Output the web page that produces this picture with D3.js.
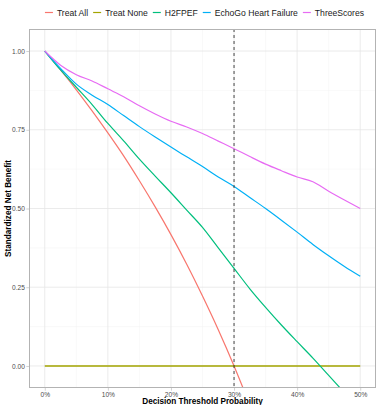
<!DOCTYPE html>
<html>
<head>
<meta charset="utf-8">
<script src="https://cdn.jsdelivr.net/npm/d3@7"></script>
<style>
  body { margin: 0; background: #fff; }
  svg { display: block; font-family: "Liberation Sans", Arial, Helvetica, sans-serif; }
</style>
</head>
<body>
<svg id="chart" width="376" height="405"></svg>
<script>
// threshold probabilities (x)
const thresholds = [0, 0.025, 0.05, 0.075, 0.10, 0.125, 0.15, 0.175, 0.20, 0.225, 0.25,
                    0.275, 0.30, 0.325, 0.35, 0.375, 0.40, 0.425, 0.45, 0.475, 0.50];

// standardized net benefit
const treatAll   = [1.00, 0.94, 0.877, 0.81, 0.74, 0.667, 0.588, 0.505, 0.417, 0.323, 0.222,
                    0.115, 0.00, -0.124, null, null, null, null, null, null, null];
const treatNone  = [0, 0, 0, 0, 0, 0, 0, 0, 0, 0, 0, 0, 0, 0, 0, 0, 0, 0, 0, 0, 0];
const h2fpef     = [1.00, 0.94, 0.885, 0.83, 0.77, 0.715, 0.657, 0.603, 0.55, 0.495, 0.44,
                    0.375, 0.31, 0.245, 0.186, 0.13, 0.077, 0.025, -0.03, -0.085, null];
const echoGo     = [1.00, 0.945, 0.895, 0.86, 0.83, 0.795, 0.76, 0.727, 0.695, 0.664, 0.633,
                    0.60, 0.57, 0.535, 0.50, 0.463, 0.425, 0.386, 0.35, 0.316, 0.285];
const threeScores= [1.00, 0.955, 0.925, 0.905, 0.88, 0.855, 0.826, 0.80, 0.777, 0.759, 0.738,
                    0.714, 0.69, 0.665, 0.641, 0.62, 0.60, 0.585, 0.555, 0.527, 0.50];

const seriesNames  = ["Treat All", "Treat None", "H2FPEF", "EchoGo Heart Failure", "ThreeScores"];
const seriesValues = [treatAll, treatNone, h2fpef, echoGo, threeScores];
const seriesColors = ["#F8766D", "#A3A500", "#00BF7D", "#00B0F6", "#E76BF3"];

const xTicks = [0, 0.1, 0.2, 0.3, 0.4, 0.5];
const xMinor = [0.05, 0.15, 0.25, 0.35, 0.45];
const yTicks = [0, 0.25, 0.5, 0.75, 1];
const yMinor = [0.125, 0.375, 0.625, 0.875];
const cutoff = 0.30;

const svg = d3.select("#chart");
const pLeft = 29, pRight = 376, pTop = 29, pBottom = 388;

const x = d3.scaleLinear().domain([-0.025, 0.525]).range([pLeft, pRight]);
const y = d3.scaleLinear().domain([-0.07, 1.07]).range([pBottom, pTop]);

// grid
const grid = svg.append("g");
grid.selectAll(".xmin").data(xMinor).enter().append("line")
  .attr("x1", d => x(d)).attr("x2", d => x(d)).attr("y1", pTop).attr("y2", pBottom)
  .attr("stroke", "#f2f2f2").attr("stroke-width", 0.5);
grid.selectAll(".ymin").data(yMinor).enter().append("line")
  .attr("x1", pLeft).attr("x2", pRight).attr("y1", d => y(d)).attr("y2", d => y(d))
  .attr("stroke", "#f2f2f2").attr("stroke-width", 0.5);
grid.selectAll(".xmaj").data(xTicks).enter().append("line")
  .attr("x1", d => x(d)).attr("x2", d => x(d)).attr("y1", pTop).attr("y2", pBottom)
  .attr("stroke", "#e6e6e6").attr("stroke-width", 0.8);
grid.selectAll(".ymaj").data(yTicks).enter().append("line")
  .attr("x1", pLeft).attr("x2", pRight).attr("y1", d => y(d)).attr("y2", d => y(d))
  .attr("stroke", "#e6e6e6").attr("stroke-width", 0.8);

// clip
svg.append("clipPath").attr("id", "panel")
  .append("rect").attr("x", pLeft).attr("y", pTop).attr("width", pRight - pLeft).attr("height", pBottom - pTop);

const line = d3.line()
  .defined(d => d[1] != null)
  .curve(d3.curveMonotoneX)
  .x(d => x(d[0])).y(d => y(d[1]));

const plot = svg.append("g").attr("clip-path", "url(#panel)");
seriesValues.forEach((vals, i) => {
  plot.append("path")
    .datum(thresholds.map((t, j) => [t, vals[j]]))
    .attr("d", line)
    .attr("fill", "none")
    .attr("stroke", seriesColors[i])
    .attr("stroke-width", i === 1 ? 1.4 : 1.2);
});

// cutoff line
plot.append("line")
  .attr("x1", x(cutoff)).attr("x2", x(cutoff)).attr("y1", pTop).attr("y2", pBottom)
  .attr("stroke", "#333").attr("stroke-width", 0.9).attr("stroke-dasharray", "3,3");

// panel border
svg.append("rect").attr("x", pLeft + 0.5).attr("y", pTop + 0.5)
  .attr("width", pRight - pLeft - 1).attr("height", pBottom - pTop - 1)
  .attr("fill", "none").attr("stroke", "#b3b3b3").attr("stroke-width", 1);

// axes
const xAxis = svg.append("g").attr("transform", `translate(0,${pBottom})`)
  .call(d3.axisBottom(x).tickValues(xTicks).tickSize(2.7).tickPadding(2)
        .tickFormat(d3.format(".0%")));
const yAxis = svg.append("g").attr("transform", `translate(${pLeft},0)`)
  .call(d3.axisLeft(y).tickValues(yTicks).tickSize(2.7).tickPadding(1.5)
        .tickFormat(d3.format(".2f")));
[xAxis, yAxis].forEach(a => {
  a.select(".domain").remove();
  a.selectAll(".tick line").attr("stroke", "#b3b3b3").attr("stroke-width", 0.6);
  a.selectAll(".tick text").attr("fill", "#4d4d4d").style("font-size", "6.6px")
    .style("font-family", "'Liberation Sans', Arial, sans-serif");
});

// axis titles
svg.append("text").attr("x", (pLeft + pRight) / 2).attr("y", 404)
  .attr("text-anchor", "middle").style("font-size", "8.2px").style("font-weight", "bold")
  .text("Decision Threshold Probability");
svg.append("text").attr("transform", `translate(11,${(pTop + pBottom) / 2}) rotate(-90)`)
  .attr("text-anchor", "middle").style("font-size", "8.2px").style("font-weight", "bold")
  .text("Standardized Net Benefit");

// legend
const legend = svg.append("g");
let lx = 0;
seriesNames.forEach((name, i) => {
  const g = legend.append("g").attr("transform", `translate(${lx},0)`);
  g.append("line").attr("x1", 0).attr("x2", 8).attr("y1", 0).attr("y2", 0)
    .attr("stroke", seriesColors[i]).attr("stroke-width", 1.2);
  const t = g.append("text").attr("x", 12).attr("y", 3.1)
    .style("font-size", "8.6px").attr("fill", "#1a1a1a").text(name);
  lx += 12 + t.node().getComputedTextLength() + 5;
});
lx -= 5;
legend.attr("transform", `translate(${(pLeft + pRight) / 2 - lx / 2 + 2},12.5)`);
</script>
</body>
</html>
